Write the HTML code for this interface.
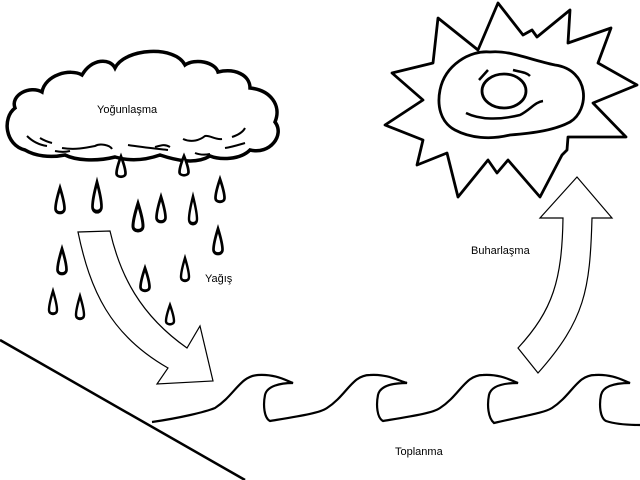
<!DOCTYPE html>
<html><head><meta charset="utf-8"><style>
html,body{margin:0;padding:0;background:#fff;}
svg{display:block;}
text{font-family:"Liberation Sans",sans-serif;font-size:11px;fill:#000;}
</style></head><body>
<svg width="640" height="480" viewBox="0 0 640 480" xmlns="http://www.w3.org/2000/svg">
<defs>
<path id="d" d="M0,-13 C3,-5 5,1 5,6 C5,11 -5,11 -5,6 C-5,1 -3,-5 0,-13 Z"/>
</defs>
<!-- cloud -->
<path d="M25,150 C5,145 2,118 15,108 C10,95 30,85 42,92 C45,75 70,68 82,75 C92,58 110,58 115,68 C125,48 175,45 185,65 C195,58 215,62 218,72 C235,68 250,75 250,88 C270,90 282,105 275,122 C285,135 270,155 250,150 C240,160 220,160 210,156 C195,165 175,160 160,155 C140,162 125,160 115,157 C95,162 75,160 65,155 C50,158 35,156 25,150 Z" fill="#fff" stroke="#000" stroke-width="3.5"/>
<g fill="none" stroke="#000" stroke-width="2">
<path d="M27,136 C33,142 40,145 47,146"/><path d="M40,138 C45,141 48,142 52,143"/>
<path d="M55,151 C60,152 66,152 70,151"/>
<path d="M62,148 C75,150 85,148 95,146 C100,143 110,145 112,149"/>
<path d="M128,145 C140,147 150,148 168,150"/>
<path d="M155,147 C162,145 165,144 170,147"/>
<path d="M183,139 C192,143 200,140 205,136 C210,135 215,140 222,139"/>
<path d="M195,153 C200,155 205,155 210,154"/>
<path d="M225,148 C232,147 238,145 245,143"/>
<path d="M232,137 C238,135 243,132 245,128"/>
</g>
<text x="97" y="113">Yoğunlaşma</text>
<!-- drops -->
<g fill="#fff" stroke="#000" stroke-width="3">
<use href="#d" transform="translate(121,168) scale(0.9,0.9)"/>
<use href="#d" transform="translate(184,167) scale(0.9,0.85)"/>
<use href="#d" transform="translate(60,202) scale(0.9,1.1)"/>
<use href="#d" transform="translate(97,199) scale(0.9,1.3)"/>
<use href="#d" transform="translate(138,219) scale(1,1.2)"/>
<use href="#d" transform="translate(161,211) scale(0.9,1.1)"/>
<use href="#d" transform="translate(193,212) scale(0.8,1.2)"/>
<use href="#d" transform="translate(220,192) scale(0.9,1)"/>
<use href="#d" transform="translate(62,263) scale(0.9,1.1)"/>
<use href="#d" transform="translate(145,281) scale(0.9,1)"/>
<use href="#d" transform="translate(185,271) scale(0.8,1)"/>
<use href="#d" transform="translate(218,243) scale(0.9,1.1)"/>
<use href="#d" transform="translate(53,304) scale(0.8,1)"/>
<use href="#d" transform="translate(80,309) scale(0.8,1)"/>
<use href="#d" transform="translate(170,316) scale(0.8,0.85)"/>
</g>
<text x="205" y="282">Yağış</text>
<!-- left arrow -->
<path d="M78,232 L110,231 C120,275 140,315 187,348 L200,326 L213,381 L157,384 L168,368 C110,335 90,290 78,232 Z" fill="#fff" stroke="#000" stroke-width="1.2"/>
<!-- ground line -->
<line x1="0" y1="340" x2="245" y2="480" stroke="#000" stroke-width="2.5"/>
<!-- waves -->
<path d="M152,422 C180,418 205,412 215,408 C235,395 240,376 258,375 C275,374 285,380 293,383 C280,383 267,386 265,395 C263,405 264,418 270,421
C300,416 320,413 327,408 C347,395 352,375 370,375 C387,374 397,380 407,383 C392,383 380,386 378,395 C376,405 377,418 383,421
C413,416 433,413 440,408 C460,395 465,375 483,375 C500,374 510,380 518,383 C503,383 491,386 489,395 C487,405 488,418 494,423
C524,416 544,413 552,408 C572,395 577,375 595,375 C612,374 622,380 630,383 C615,383 603,386 601,395 C599,405 600,418 606,421 C615,424 630,425 640,425" fill="none" stroke="#000" stroke-width="2.2"/>
<text x="395" y="455">Toplanma</text>
<!-- right arrow -->
<path d="M538,373 L518,348 C553,310 562,280 563,218 L540,218 L577,177 L612,218 L592,218 C590,290 585,320 538,373 Z" fill="#fff" stroke="#000" stroke-width="1.2"/>
<text x="471" y="254">Buharlaşma</text>
<!-- sun -->
<path d="M438,18 L478,50 L498,3 L523,35 L532,30 L537,37 L570,10 L568,43 L611,28 L598,63 L637,85 L593,103 L626,137 L568,137 L567,150 L562,155 L540,197 L508,160 L497,173 L488,160 L458,197 L447,153 L417,165 L423,140 L385,125 L423,100 L392,73 L433,63 Z" fill="#fff" stroke="#000" stroke-width="2.8" stroke-linejoin="round"/>
<path d="M440,90 C445,65 470,50 490,52 C510,50 530,60 555,65 C590,70 590,110 570,122 C555,130 535,133 510,135 C490,140 470,138 455,130 C440,122 437,105 440,90 Z" fill="none" stroke="#000" stroke-width="2.8"/>
<ellipse cx="504" cy="91" rx="22" ry="17" fill="none" stroke="#000" stroke-width="2.8"/>
<g fill="none" stroke="#000" stroke-width="2.5">
<path d="M466,113 C480,120 500,120 520,115 C530,110 535,102 543,101"/>
<path d="M479,80 L488,70"/>
<path d="M513,70 C520,72 526,72 530,76"/>
</g>
</svg>
</body></html>
